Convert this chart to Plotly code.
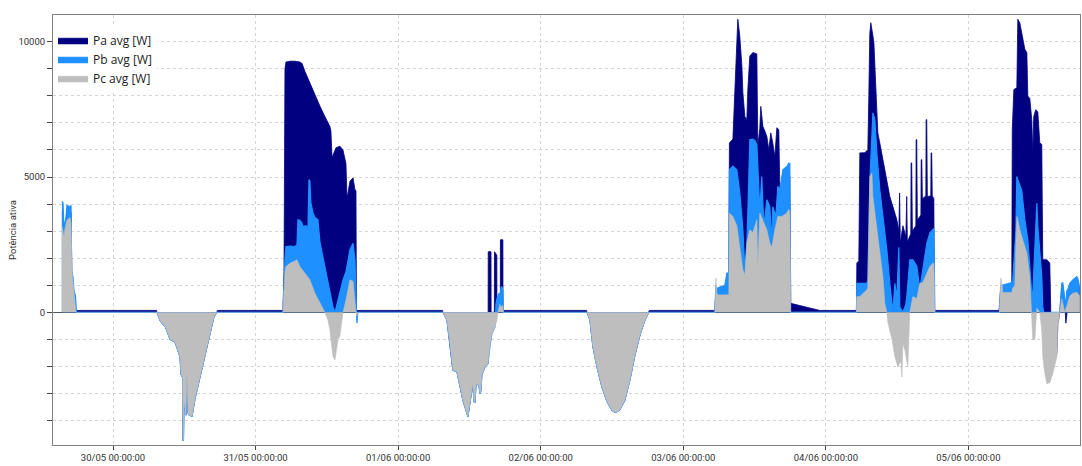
import plotly.graph_objects as go

YEAR = "2024"

# ---------------- shared midday export troughs (all three phases) ----------------
trough_3005_t = ["07:24","07:55","08:25","08:45","09:36","10:26","11:17","11:27","11:42","11:47","11:52","11:57",
                 "12:07","12:17","12:27","12:37","12:48","13:18","13:48","14:39","15:29","16:20","17:00","17:30"]
trough_3005_v = [0,-300,-450,-500,-1000,-1100,-1650,-2300,-2400,-4750,-4700,-3300,
                 -3500,-3800,-2300,-3700,-3800,-3850,-3200,-2400,-1500,-700,-160,0]

trough_0106_t = ["07:32","08:13","08:43","09:13","09:54","10:24","10:54","11:35","11:45","11:55","12:05",
                 "12:35","12:45","12:56","13:06","13:16","13:36","13:46","13:56","14:06","14:37","15:07"]
trough_0106_v = [0,-290,-1150,-2140,-2200,-2760,-3250,-3740,-3860,-3600,-3380,
                 -2640,-3300,-3350,-2700,-2640,-2700,-3000,-2900,-2300,-2020,-1900]

trough_0206_t = ["07:47","08:17","08:47","09:28","10:18","11:09","11:59","12:20","12:50","13:20","14:10",
                 "15:01","15:51","16:42","17:32","18:13"]
trough_0206_v = [0,-290,-1270,-2020,-2760,-3300,-3620,-3680,-3680,-3600,-3250,
                 -2500,-1600,-850,-300,0]

# ---------------- Pa avg [W] ----------------
pa_2905_t = ["15:24","15:35","15:45","16:05","16:15","16:56","17:06","17:26","17:46"]
pa_2905_v = [3700,3750,2950,3400,3650,3700,1200,600,70]

pa_idle_3005_t = ["07:20","17:34"]
pa_idle_3005_v = [70,70]

pa_3105_t = ["04:37","04:47","04:57","05:07","05:47","06:38","07:28","07:49","08:19","08:49","09:09","09:40",
             "10:00","10:30","10:50","11:41","12:31","12:41","12:52","13:02","13:22","13:32","14:12","14:43",
             "14:53","15:13","15:23","15:33","15:53","16:24","16:44","16:54","16:59","17:09"]
pa_3105_v = [70,1500,9000,9250,9280,9280,9250,9200,8900,8650,8480,8200,
             7990,7750,7620,7230,6870,6700,5760,5800,6050,6080,6140,6000,
             5830,5500,4280,4400,4840,4970,4530,4500,0,70]

pa_0106_t = ["07:28","15:09","15:10","15:38","15:39","16:12","16:13","16:30","16:37","16:38","17:12","17:13","17:38","17:39"]
pa_0106_v = [70,0,2240,2240,0,0,2240,2150,2100,0,0,2680,2680,70]

pa_idle_0206_t = ["07:43","18:17"]
pa_idle_0206_v = [70,70]

pa_0306_t = ["05:19","05:29","05:49","07:20","07:40","07:46","08:21","08:41","09:01","09:11","09:21","09:31",
             "09:52","10:02","10:22","10:42","10:52","11:12","11:43","12:23","12:33","12:53","13:03","13:24",
             "13:44","14:04","14:24","14:44","15:04","15:25","15:45","16:05","16:15","16:35","16:46","17:26",
             "17:46","17:56","18:06","19:37","21:18","22:59"]
pa_0306_v = [70,800,900,1000,1300,6260,6400,8500,9970,10830,10500,10200,
             9100,8110,7240,7120,8230,9470,9600,9550,6130,6800,7610,6870,
             6700,6500,6010,6630,6260,5760,6820,6750,4530,4600,4800,5200,
             5300,5000,330,250,150,70]

pa_0406_t = ["05:09","05:13","05:33","05:43","06:34","07:04","07:14","07:24","07:34","07:45","07:55","08:05",
             "08:25","08:45","09:05","09:36","10:16","10:46","11:17","11:57","12:17","12:19","12:25","12:32","12:58",
             "13:28","13:31","13:37","13:43","14:18","14:21","14:27","14:34","15:09","15:12","15:18","15:24",
             "16:00","16:03","16:09","16:15","16:50","16:53","16:59","17:05","17:40","17:43","17:49","17:55","18:11","18:16"]
pa_0406_v = [70,1820,1900,5890,5900,6010,8000,10300,10700,10500,10230,9970,
             8110,6630,6260,5640,4780,4280,3910,3420,3000,4410,4410,2560,3200,
             2800,4280,4280,2600,2900,5520,5520,3000,3200,6380,6380,3400,
             3600,5640,5640,4200,4300,7120,7120,4280,4300,5890,5890,4300,4200,70]

pa_0506_t = ["05:09","05:27","07:18","07:23","07:39","08:09","08:19","08:39","08:59","09:09","09:30","09:50",
             "10:00","10:20","10:40","10:50","11:00","11:21","11:41","12:01","12:21","12:31","13:12","13:42",
             "13:52","14:12","14:53","15:03","15:23","15:43","15:53","16:14","16:24","16:34","16:44","17:04",
             "17:34","18:15","18:45"]
pa_0506_v = [70,900,1000,6750,8230,8300,10830,10700,10290,10200,9720,9600,
             7990,7900,7120,5890,7240,7490,7400,6260,6200,1940,1940,1820,
             0,-2000,-1500,-450,0,900,900,300,-400,-100,700,900,
             1000,1100,900]

# ---------------- Pb avg [W] ----------------
pb_2905_t = ["15:24","15:35","15:45","16:05","16:15","16:46","16:56","17:01","17:16","17:26","17:41","17:51"]
pb_2905_v = [4100,4050,3100,3500,3950,3900,3950,1500,1300,800,600,0]

pb_3105_t = ["04:37","04:42","04:47","04:57","05:07","05:47","06:38","06:58","07:08","07:28","07:49","07:59",
             "08:29","08:49","08:59","09:09","09:19","09:40","10:00","10:30","10:50","11:41","12:31","13:02",
             "13:22","13:32","13:52","14:12","14:43","15:13","15:23","15:53","16:24","16:44","16:54","16:59",
             "17:04","17:14"]
pb_3105_v = [0,600,1200,2000,2430,2450,2430,2500,3420,3400,3300,3170,
             3200,3100,4900,4850,4040,3670,3500,3420,2600,1690,700,200,
             0,150,450,800,1200,1500,1700,2310,2550,1940,600,-400,
             -400,0]

pb_0106_t = ["15:27","15:47","16:18","16:28","16:38","16:58","17:08","17:18","17:28","17:38","17:43"]
pb_0106_v = [-1270,-780,-540,300,500,700,600,900,950,800,0]

pb_0306_t = ["05:19","05:29","05:39","05:49","06:30","07:00","07:20","07:40","07:46","08:21","09:01","09:31",
             "09:52","10:02","10:22","10:42","10:52","11:12","11:43","12:03","12:23","12:33","12:53","13:13",
             "13:34","14:04","14:34","14:54","15:04","15:35","15:55","16:15","16:46","17:26","17:46","17:56",
             "18:01"]
pb_0306_v = [0,1000,800,900,950,1000,1450,1450,5270,5400,5270,4410,
             3500,3050,1570,2560,3670,6380,6400,6350,6200,5390,3790,5020,
             3170,4160,3910,2560,3900,3540,4660,4530,5270,5390,5510,5500,
             0]

pb_0406_t = ["05:09","05:13","06:54","07:04","07:24","07:45","07:55","08:15","08:35","09:05","09:36","10:16",
             "10:46","11:07","11:17","11:37","11:57","12:17","12:27","12:58","13:28","13:38","14:08","14:39",
             "15:19","15:49","16:20","17:00","17:30","18:01","18:11","18:21"]
pb_0406_v = [0,1070,1070,1200,4780,6260,7370,7120,5890,4530,3540,2310,
             1070,450,0,1070,500,2400,200,0,300,600,1940,1940,
             1700,860,1570,2560,2930,3050,3100,0]

pb_0506_t = ["05:13","05:27","05:47","07:18","07:28","07:59","08:09","08:19","08:39","08:59","09:30","10:00",
             "10:20","10:40","10:50","11:21","11:31","11:41","12:01","12:21","12:31","12:41","15:23","15:43",
             "15:53","16:14","16:24","16:34","16:44","17:04","17:34","18:15","18:25","18:45"]
pb_0506_v = [0,1000,1010,1100,1200,3000,5020,4900,4660,4500,3420,2680,
             1690,690,650,3000,4040,3170,2190,1320,200,0,0,1070,
             1100,400,200,800,850,1070,1200,1320,1250,900]

# ---------------- Pc avg [W] ----------------
pc_2905_t = ["15:24","15:45","15:55","16:15","16:46","16:56","17:06","17:16","17:26","17:46"]
pc_2905_v = [3200,2800,3100,3400,3500,3300,1500,1100,700,0]

pc_3105_t = ["04:37","04:42","04:47","04:57","05:07","05:47","06:38","06:58","07:28","08:19","09:09","10:00",
             "10:50","11:41","12:11","12:31","12:41","13:02","13:22","13:32","13:52","14:12","14:43","15:13",
             "15:53","16:24","16:44","16:54","17:04","17:14"]
pc_3105_v = [0,500,950,1500,1690,1810,1900,1940,1690,1440,1200,700,
             330,0,-290,-650,-1000,-1640,-1760,-1500,-1020,-870,0,450,
             1200,1150,200,0,-150,0]

pc_0106_t = ["15:27","15:47","16:18","16:38","16:48","16:58","17:08","17:18","17:38","17:43"]
pc_0106_v = [-1270,-780,-540,-290,0,150,300,200,250,0]

pc_0306_t = ["05:19","05:29","05:39","05:49","07:20","07:40","07:46","08:21","09:01","09:31","10:02","10:22",
             "10:42","11:12","11:43","12:23","12:33","12:53","13:24","14:04","14:34","14:54","15:25","15:55",
             "16:35","17:26","17:46","17:56","18:06"]
pc_0306_v = [0,1270,700,640,640,650,3670,3540,3200,2310,1570,1390,
             2560,3050,2950,3420,1690,3670,3400,3050,2560,2400,3050,3540,
             3540,3670,3800,3700,0]

pc_0406_t = ["05:09","05:13","05:43","06:54","07:04","07:24","07:45","07:55","08:35","09:05","09:36","09:56",
             "10:16","10:26","11:07","11:37","12:07","12:38","12:48","12:58","13:18","13:48","14:08","14:39",
             "15:19","15:49","16:20","17:00","17:30","18:01","18:11","18:21"]
pc_0406_v = [0,580,580,830,900,5020,5150,4280,3170,2310,1320,330,
             0,-370,-990,-1640,-2020,-1800,-2390,-1150,-1400,-2020,0,580,
             500,1070,1100,1440,1690,1820,1800,0]

pc_0506_t = ["05:13","05:27","05:37","05:47","07:18","07:28","07:49","07:59","08:09","08:19","08:39","09:09",
             "09:50","10:20","10:40","10:50","11:11","11:31","11:41","12:01","12:21","12:31","12:52","13:12",
             "13:42","14:12","14:53","15:03","15:23","15:43","16:14","16:44","17:04","17:34","18:15","18:45"]
pc_0506_v = [0,1270,1100,730,730,900,1000,2500,3540,3420,3050,2680,
             2190,1320,0,-1020,-1000,150,100,0,-700,-1640,-2270,-2640,
             -2600,-2270,-1640,-520,0,500,0,400,600,700,740,600]

# ---------------- axis labels ----------------
x_range = [f"{YEAR}-05-29 13:54", f"{YEAR}-06-05 18:47"]
y_range = [-4904, 10987]
y_tick_vals = [0, 5000, 10000]
y_tick_text = ["0", "5000", "10000"]
series_names = ["Pa avg [W]", "Pb avg [W]", "Pc avg [W]"]
series_colors = ["#000080", "#1E90FF", "#BEBEBE"]


def build(*blocks):
    pts = []
    for day, ts, vs in blocks:
        pts += [(f"{YEAR}-{day} {t}", v) for t, v in zip(ts, vs)]
    pts.sort(key=lambda p: p[0])
    return [p[0] for p in pts], [p[1] for p in pts]


pa = build(("05-29", pa_2905_t, pa_2905_v), ("05-30", pa_idle_3005_t, pa_idle_3005_v),
           ("05-30", trough_3005_t, trough_3005_v), ("05-31", pa_3105_t, pa_3105_v),
           ("06-01", trough_0106_t, trough_0106_v), ("06-01", pa_0106_t, pa_0106_v),
           ("06-02", pa_idle_0206_t, pa_idle_0206_v), ("06-02", trough_0206_t, trough_0206_v),
           ("06-03", pa_0306_t, pa_0306_v), ("06-04", pa_0406_t, pa_0406_v),
           ("06-05", pa_0506_t, pa_0506_v))
pb = build(("05-29", pb_2905_t, pb_2905_v), ("05-30", trough_3005_t, trough_3005_v),
           ("05-31", pb_3105_t, pb_3105_v), ("06-01", trough_0106_t, trough_0106_v),
           ("06-01", pb_0106_t, pb_0106_v), ("06-02", trough_0206_t, trough_0206_v),
           ("06-03", pb_0306_t, pb_0306_v), ("06-04", pb_0406_t, pb_0406_v),
           ("06-05", pb_0506_t, pb_0506_v))
pc = build(("05-29", pc_2905_t, pc_2905_v), ("05-30", trough_3005_t, trough_3005_v),
           ("05-31", pc_3105_t, pc_3105_v), ("06-01", trough_0106_t, trough_0106_v),
           ("06-01", pc_0106_t, pc_0106_v), ("06-02", trough_0206_t, trough_0206_v),
           ("06-03", pc_0306_t, pc_0306_v), ("06-04", pc_0406_t, pc_0406_v),
           ("06-05", pc_0506_t, pc_0506_v))

fig = go.Figure()
for (x, y), name, color, lw in zip([pa, pb, pc], series_names, series_colors, [0.8, 1.2, 0.6]):
    fig.add_trace(go.Scatter(x=x, y=y, name=name, mode="lines", fill="tozeroy",
                             fillcolor=color, line=dict(color=color, width=lw)))

grid = "#d4d4d4"
fig.update_layout(
    width=1082, height=466,
    margin=dict(l=53, r=2, t=15, b=21),
    paper_bgcolor="white", plot_bgcolor="white",
    font=dict(family="Roboto", color="#333333"),
    showlegend=True,
    legend=dict(x=0, y=0.975, xanchor="left", yanchor="top", bgcolor="white",
                font=dict(family="Open Sans", size=12, color="#222222"),
                tracegroupgap=0, itemwidth=30),
    xaxis=dict(type="date", range=x_range, tick0=f"{YEAR}-05-30", dtick=86400000,
               tickformat="%d/%m %H:%M:%S", ticks="outside", ticklen=4, tickcolor="#444",
               showgrid=True, gridcolor=grid, griddash="3px,3px", gridwidth=1,
               showline=True, linecolor="#808080", mirror=True, zeroline=False,
               tickfont=dict(family="Roboto", size=9.5, color="#333333")),
    yaxis=dict(range=y_range, tickmode="array", tickvals=y_tick_vals, ticktext=y_tick_text,
               ticks="outside", ticklen=5, tickcolor="#444",
               showgrid=True, gridcolor=grid, griddash="3px,3px",
               minor=dict(dtick=1000, tick0=0, ticks="outside", ticklen=5, tickcolor="#444",
                          showgrid=True, gridcolor=grid, griddash="3px,3px"),
               zeroline=True, zerolinecolor="#555555", zerolinewidth=1,
               showline=True, linecolor="#808080", mirror=True,
               tickfont=dict(family="Roboto", size=9.5, color="#333333"),
               title=dict(text="Potência ativa", font=dict(family="Roboto", size=9.5, color="#333333"),
                          standoff=0)),
)

# remove the browser's default 8px body margin so the figure fills the window exactly
fig.write_html("out.html", config={"displayModeBar": False},
               post_script="document.body.style.margin='0px';document.body.style.overflow='hidden';")
